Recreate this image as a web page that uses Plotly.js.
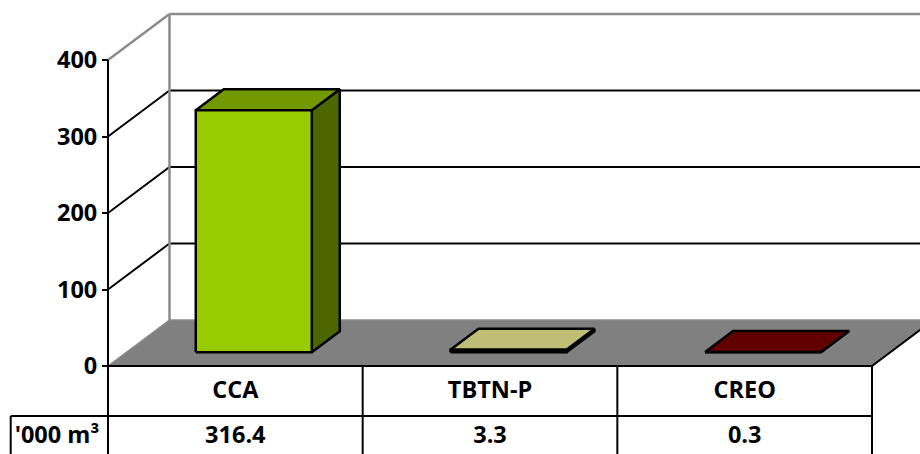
<!DOCTYPE html>
<html>
<head>
<meta charset="utf-8">
<script src="https://cdn.plot.ly/plotly-3.0.1.min.js"></script>
<style>html,body{margin:0;padding:0;background:#fff;}#chart{width:920px;height:454px;}</style>
</head>
<body>
<div id="chart"></div>
<script>
// ---- data ----
const categories = ['CCA', 'TBTN-P', 'CREO'];
const values = [316.4, 3.3, 0.3];
const yTicks = [0, 100, 200, 300, 400];
const unitLabel = "'000 m³";
const frontColors = ['#99CC00', '#9A9A5C', '#4A0000'];
const topColors = ['#739900', '#BEBE76', '#600000'];
const sideColors = ['#4D6600', '#7F7F4C', '#3A0000'];

// ---- geometry (layout constants) ----
const W = 920, H = 454;
const X0PX = 108, CWPX = 764 / 3;       // category width in px
const Y0PX = 366, KY = 0.765;            // px per value unit
const xRange = [-X0PX / CWPX, (W - X0PX) / CWPX];
const yRange = [-(H - Y0PX) / KY, Y0PX / KY];
const DX = 61.5 / CWPX, DY = 46 / KY;    // depth vector
const D0 = 0.30, D1 = 0.755;             // bar depth span
const HW = 116 / CWPX / 2;               // half bar width
const NC = categories.length;
const YMAX = yTicks[yTicks.length - 1];
const ROW1 = -(416 - Y0PX) / KY;         // table row divider
const LEFTX = (10.7 - X0PX) / CWPX;      // left border of table
const BOTTOM = yRange[0];

function P(x, v, d) { return [x + d * DX, v + d * DY]; }

function poly(pts, fill, lc, lw) {
  const xs = pts.map(p => p[0]); const ys = pts.map(p => p[1]);
  xs.push(pts[0][0]); ys.push(pts[0][1]);
  return {type: 'scatter', mode: 'lines', x: xs, y: ys, fill: 'toself', fillcolor: fill,
    line: {color: lc || fill, width: lw === undefined ? 0 : lw}, hoverinfo: 'skip', showlegend: false};
}
function segs(list, color, width) {
  const xs = [], ys = [];
  list.forEach(s => { xs.push(s[0][0], s[1][0], null); ys.push(s[0][1], s[1][1], null); });
  return {type: 'scatter', mode: 'lines', x: xs, y: ys, line: {color: color, width: width},
    hoverinfo: 'skip', showlegend: false, connectgaps: false};
}

const traces = [];
// floor
traces.push(poly([P(0, 0, 0), P(NC, 0, 0), P(NC, 0, 1), P(0, 0, 1)], '#808080'));
traces.push(segs([[P(0, 0, 0), P(0, 0, 1)], [P(0, 0, 1), P(NC + 1, 0, 1)]], '#8C8C8C', 1.5));
traces.push(segs([[P(NC, 0, 0), P(NC, 0, 1)]], '#000000', 2));
// walls: grid lines
const gridBlack = [], gridGray = [];
yTicks.forEach(v => {
  if (v === 0) return;
  const target = v === YMAX ? gridGray : gridBlack;
  target.push([P(0, v, 0), P(0, v, 1)]);
  target.push([P(0, v, 1), P(NC + 1, v, 1)]);
});
gridGray.push([P(0, 0, 1), P(0, YMAX, 1)]);
traces.push(segs(gridBlack, '#000000', 2));
traces.push(segs(gridGray, '#8C8C8C', 2.5));

// bars
values.forEach((v, i) => {
  const c = i + 0.5, l = c - HW, r = c + HW;
  traces.push(poly([P(r, 0, D0), P(r, 0, D1), P(r, v, D1), P(r, v, D0)], sideColors[i], '#000', 2.5));
  traces.push(poly([P(l, v, D0), P(r, v, D0), P(r, v, D1), P(l, v, D1)], topColors[i], '#000', 2.5));
  traces.push(poly([P(l, 0, D0), P(r, 0, D0), P(r, v, D0), P(l, v, D0)], frontColors[i], '#000', 2.5));
});

// table lines and axis line
const tbl = [[[0, 0], [NC, 0]], [[LEFTX, ROW1], [NC, ROW1]], [[LEFTX, ROW1], [LEFTX, BOTTOM]],
  [[0, YMAX], [0, BOTTOM]]];
for (let i = 1; i <= NC; i++) tbl.push([[i, 0], [i, BOTTOM]]);
traces.push(segs(tbl, '#000000', 2));

// table text
const tfont = {family: 'Open Sans, sans-serif', size: 23.5, color: '#000', weight: 700};
traces.push({type: 'scatter', mode: 'text', x: categories.map((_, i) => i + 0.5),
  y: categories.map(() => -(392 - Y0PX) / KY), text: categories, textfont: tfont,
  hoverinfo: 'skip', showlegend: false});
traces.push({type: 'scatter', mode: 'text', x: values.map((_, i) => i + 0.5),
  y: values.map(() => -(437 - Y0PX) / KY), text: values.map(v => v.toFixed(1)), textfont: tfont,
  hoverinfo: 'skip', showlegend: false});
traces.push({type: 'scatter', mode: 'text', x: [(57 - X0PX) / CWPX], y: [-(437 - Y0PX) / KY],
  text: [unitLabel], textfont: tfont, hoverinfo: 'skip', showlegend: false});

const layout = {
  width: W, height: H, margin: {l: 0, r: 0, t: 0, b: 0, pad: 0},
  paper_bgcolor: '#fff', plot_bgcolor: '#fff', showlegend: false,
  xaxis: {range: xRange, visible: false, fixedrange: true},
  yaxis: {range: yRange, anchor: 'free', position: X0PX / W, tickvals: yTicks,
    ticktext: yTicks.map(String), showgrid: false, zeroline: false, showline: false,
    ticks: 'outside', ticklen: 6, tickwidth: 2, tickcolor: '#000',
    tickfont: {family: 'Open Sans, sans-serif', size: 23.5, color: '#000', weight: 700},
    fixedrange: true}
};
Plotly.newPlot('chart', traces, layout, {displayModeBar: false, staticPlot: true});
</script>
</body>
</html>
